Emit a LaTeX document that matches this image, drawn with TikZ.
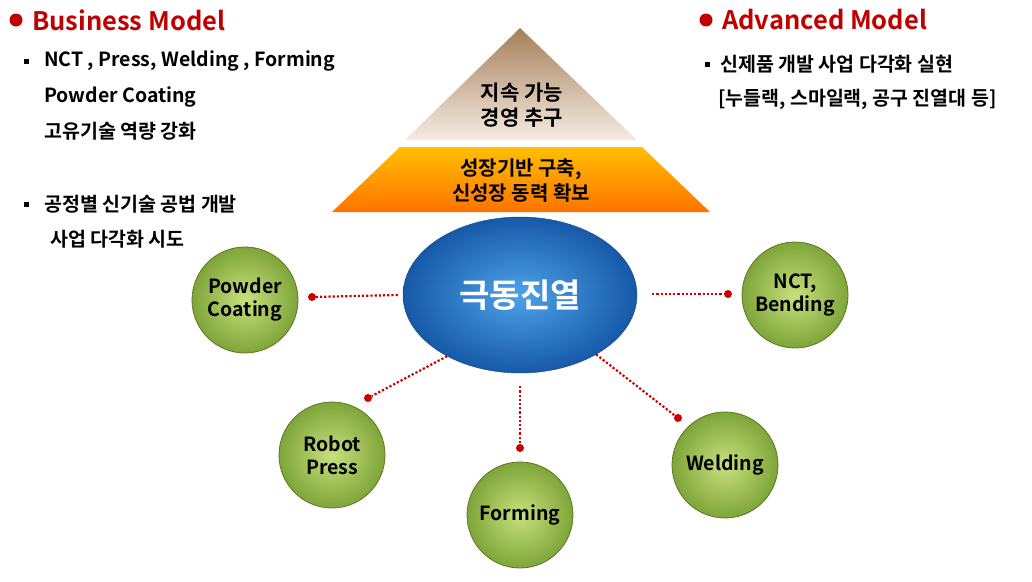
\documentclass[tikz,border=0pt]{standalone}
\usepackage{fontspec}
\setmainfont{Noto Sans CJK KR}[BoldFont={Noto Sans CJK KR Bold}]
\usetikzlibrary{shapes.geometric}
\definecolor{bred}{HTML}{C00000}
\definecolor{gdark}{HTML}{5A7A22}
\definecolor{gin}{HTML}{C8E07C}
\definecolor{gout}{HTML}{7EA53A}
\definecolor{bin}{HTML}{4DA3E8}
\definecolor{bout}{HTML}{1659A8}
\begin{document}
\begin{tikzpicture}[x=1pt,y=-1pt,
  txt/.style={anchor=west,font=\bfseries\fontsize{19.5}{22}\selectfont,inner sep=0},
  ttl/.style={anchor=west,font=\bfseries\fontsize{25.5}{28}\selectfont,text=bred,inner sep=0},
  rdot/.style={circle,fill=bred,minimum size=13pt,inner sep=0},
  sq/.style={fill=black,minimum size=5pt,inner sep=0},
  gball/.style={circle,minimum size=106pt,draw=gdark,line width=0.8pt,inner color=gin,outer color=gout,align=center,font=\bfseries\fontsize{19.5}{23}\selectfont},
  conn/.style={red!80!black,line width=2.2pt,dotted},
  pdot/.style={circle,fill=red!80!black,minimum size=8pt,inner sep=0}]
\useasboundingbox (0,0) rectangle (1032,581);
% titles
\node[rdot] (d1) at (16,20) {};
\node[ttl] (t1) at (32,20) {Business Model};
\node[rdot] (d2) at (706,20) {};
\node[ttl] (t2) at (722,20) {Advanced Model};
\node[sq] (s1) at (26,61) {};
\node[txt] (l1) at (44,61) {NCT , Press, Welding , Forming};
\node[txt] (l2) at (44,97) {Powder Coating};
\node[txt] (l3) at (44,131) {고유기술 역량 강화};
\node[sq] (s2) at (26,204) {};
\node[txt] (l4) at (44,204) {공정별 신기술 공법 개발};
\node[txt] (l5) at (50,239) {사업 다각화 시도};
\node[sq] (s3) at (707,64) {};
\node[txt] (r1) at (720,64) {신제품 개발 사업 다각화 실현};
\node[txt] (r2) at (718,99) {[누들랙, 스마일랙, 공구 진열대 등]};
% pyramid
\shade[top color=brown!60!gray,bottom color=brown!15!white] (520,28) -- (637,140) -- (405,140) -- cycle;
\node[align=center,font=\bfseries\fontsize{21}{25}\selectfont] (p1) at (522,105) {지속 가능\\경영 추구};
\shade[top color=orange!50!yellow,bottom color=orange!90!red] (400,147) -- (642,147) -- (710,212) -- (332,212) -- cycle;
\node[align=center,font=\bfseries\fontsize{20}{25}\selectfont] (p2) at (521,181) {성장기반 구축,\\신성장 동력 확보};
% center
\node[ellipse,minimum width=234pt,minimum height=156pt,inner color=bin,outer color=bout,draw=bout!80!black,text=white,font=\bfseries\fontsize{33}{36}\selectfont] (c) at (520,295) {극동진열};
% circles
\node[gball] (pc) at (245,300) {Powder\\Coating};
\node[gball] (nc) at (795,295) {NCT,\\Bending};
\node[gball] (rp) at (332,455) {Robot\\Press};
\node[gball] (fo) at (520,515) {Forming};
\node[gball] (we) at (725,465) {Welding};
% connectors
\node[pdot] (e1) at (312,297) {};
\node[pdot] (e2) at (728,294) {};
\node[pdot] (e3) at (368,398) {};
\node[pdot] (e4) at (520,448) {};
\node[pdot] (e5) at (678,418) {};
\draw[conn] (c.180) ++(-5,0) coordinate (x1) (x1) -- (e1);
\draw[conn] (c.0) ++(15,-1) coordinate (x2) (x2) -- (e2);
\draw[conn] (c.220) -- (e3);
\draw[conn] (c.south) ++(0,13) coordinate (x4) (x4) -- (e4);
\draw[conn] (c.322) -- (e5);
\end{tikzpicture}
\end{document}
